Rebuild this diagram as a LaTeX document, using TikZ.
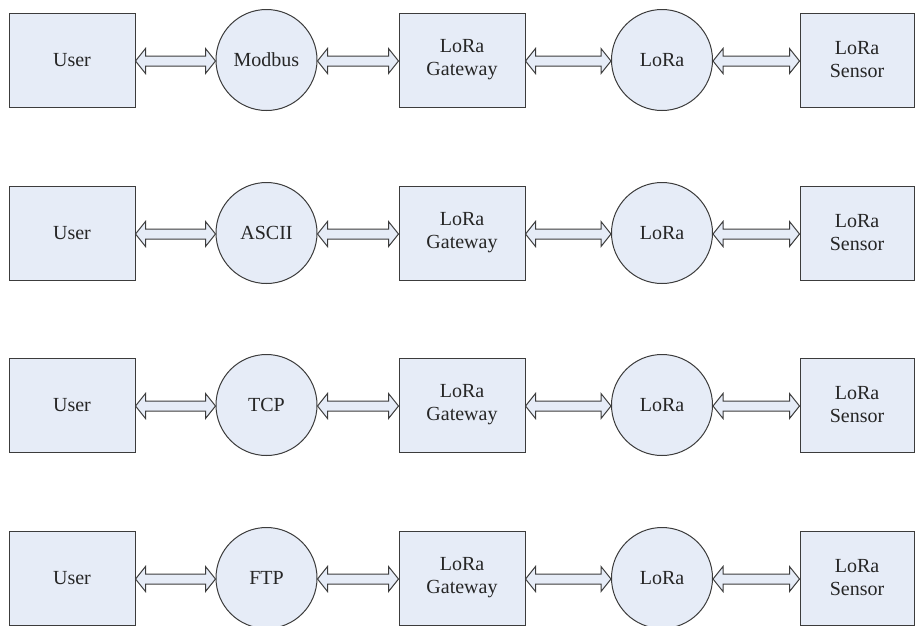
\documentclass[tikz,border=0pt]{standalone}
\usepackage{fontspec}
\setmainfont{Liberation Serif}
\usetikzlibrary{calc}
\definecolor{boxfill}{RGB}{230,236,247}
\definecolor{edge}{RGB}{60,60,60}
\tikzset{
  every node/.style={font=\fontsize{20}{23}\selectfont, text=black!85},
  unit/.style={draw=edge, line width=1pt, fill=boxfill, rectangle, minimum width=126pt, minimum height=94pt, align=center, inner sep=0pt},
  proto/.style={draw=edge, line width=1pt, fill=boxfill, circle, minimum size=101pt, inner sep=0pt},
  dblarrow/.style={draw=edge, line width=1pt, fill=boxfill, line join=miter,
    to path={let \p1=(\tikztostart), \p2=(\tikztotarget) in
      (\x1,\y1) -- (\x1+10pt,\y1+12.5pt) -- (\x1+10pt,\y1+5pt) -- (\x2-10pt,\y1+5pt)
      -- (\x2-10pt,\y1+12.5pt) -- (\x2,\y1) -- (\x2-10pt,\y1-12.5pt) -- (\x2-10pt,\y1-5pt)
      -- (\x1+10pt,\y1-5pt) -- (\x1+10pt,\y1-12.5pt) -- cycle}}
}
\begin{document}
\begin{tikzpicture}[x=1pt,y=1pt]
\useasboundingbox (0,0) rectangle (916,-625);
\foreach \i/\y/\proto in {1/60/Modbus, 2/233/ASCII, 3/405/TCP, 4/578/FTP}{
  \node[unit] (user\i) at (72,-\y) {User};
  \node[proto] (prot\i) at (266.5,-\y) {\proto};
  \node[unit] (gw\i) at (462,-\y) {LoRa\\Gateway};
  \node[proto] (lora\i) at (662,-\y) {LoRa};
  \node[unit, minimum width=114pt] (sens\i) at (857,-\y) {LoRa\\Sensor};
  \path[dblarrow] ($(user\i.east)+(0,-1)$) to ($(prot\i.west)+(0,-1)$);
  \path[dblarrow] ($(prot\i.east)+(0,-1)$) to ($(gw\i.west)+(0,-1)$);
  \path[dblarrow] ($(gw\i.east)+(0,-1)$) to ($(lora\i.west)+(0,-1)$);
  \path[dblarrow] ($(lora\i.east)+(0,-1)$) to ($(sens\i.west)+(0,-1)$);
}
\end{tikzpicture}
\end{document}
